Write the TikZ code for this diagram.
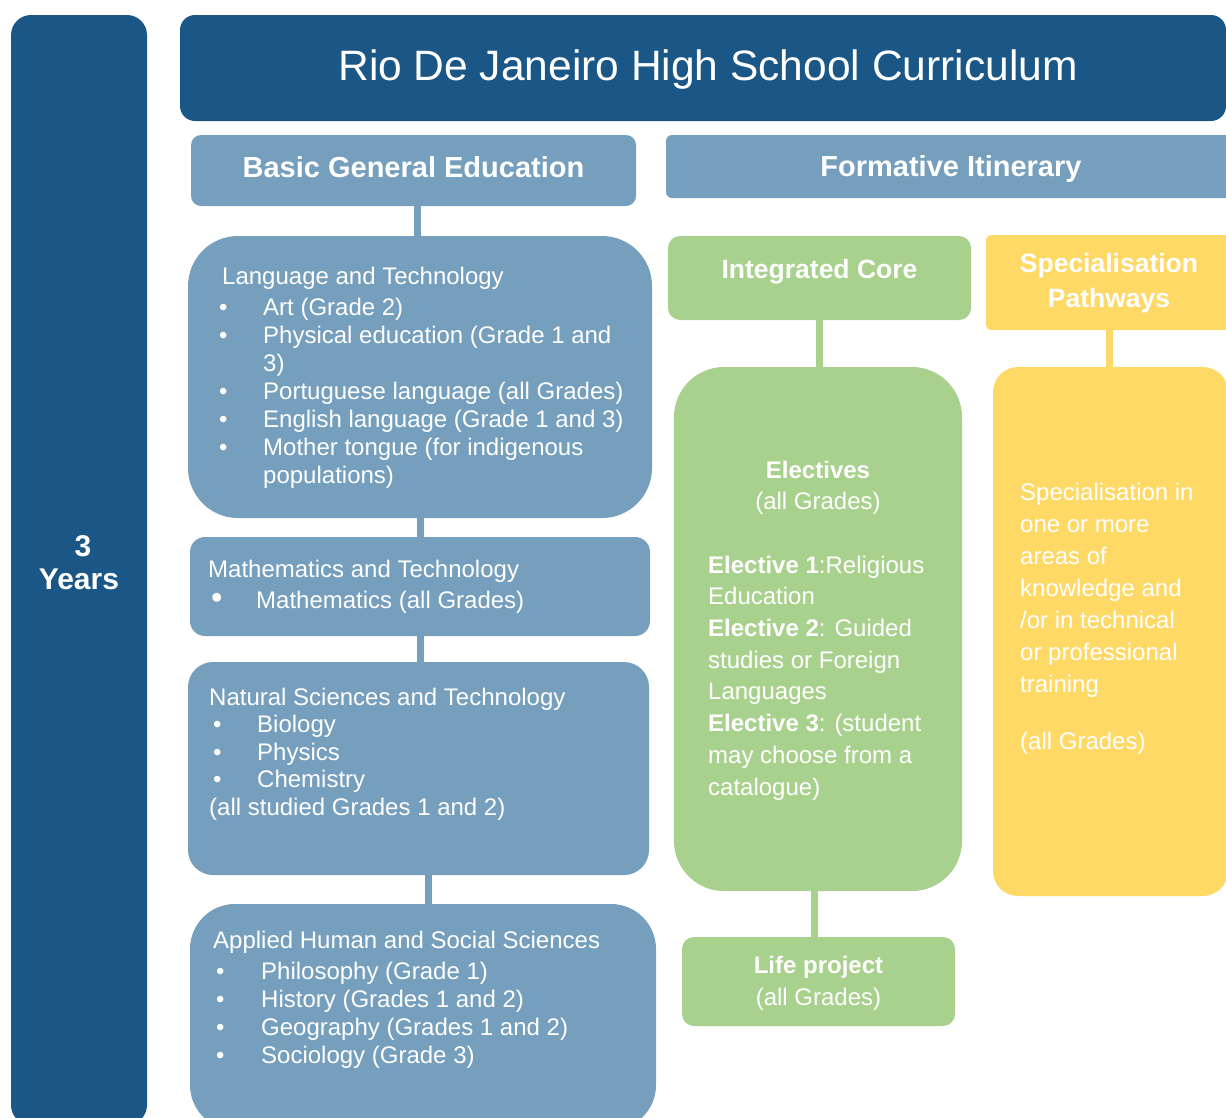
\documentclass[tikz,border=0pt]{standalone}
\usepackage{fontspec}
\setmainfont{Liberation Sans}
\usetikzlibrary{positioning}
\definecolor{darkblue}{HTML}{1A5786}
\definecolor{midblue}{HTML}{759FBC}
\definecolor{leafgreen}{HTML}{A9D18E}
\definecolor{sunyellow}{HTML}{FFD966}
\newcommand{\bul}[2][44pt]{\makebox[#1][l]{\textbullet}#2}

\begin{document}
\begin{tikzpicture}[x=1pt, y=-1pt, every node/.style={text=white, inner sep=0pt}]
      \tikzstyle{panel}=[rectangle, draw=none]
      \tikzstyle{head}=[font=\fontsize{29}{35}\selectfont\bfseries, anchor=base, align=center]
      \tikzstyle{body}=[font=\fontsize{24}{28}\selectfont, anchor=base west, align=left]
      \tikzstyle{bodyr}=[font=\fontsize{24}{31.7}\selectfont, anchor=base west, align=left]
      \tikzstyle{link}=[line width=7pt]
      \useasboundingbox (0,0) rectangle (1226,1117);
      \node[panel, fill=darkblue, minimum width=136pt, minimum height=1110pt, rounded corners=20pt] (years) at (79,570) {};
      \node[panel, fill=darkblue, minimum width=1046pt, minimum height=106pt, rounded corners=15pt] (title) at (703,68) {};
      \node[panel, fill=midblue, minimum width=445pt, minimum height=71pt, rounded corners=10pt] (bge) at (413.5,170.5) {};
      \node[panel, fill=midblue, minimum width=566pt, minimum height=63pt, rounded corners=6pt] (form) at (949,166.5) {};
      \node[panel, fill=midblue, minimum width=464pt, minimum height=282pt, rounded corners=50pt] (lang) at (420,377) {};
      \node[panel, fill=midblue, minimum width=460pt, minimum height=99pt, rounded corners=15pt] (maths) at (420,586.5) {};
      \node[panel, fill=midblue, minimum width=461pt, minimum height=213pt, rounded corners=25pt] (nat) at (418.5,768.5) {};
      \node[panel, fill=midblue, minimum width=466pt, minimum height=226pt, rounded corners=45pt] (app) at (423,1017) {};
      \node[panel, fill=leafgreen, minimum width=303pt, minimum height=84pt, rounded corners=12pt] (core) at (819.5,278) {};
      \node[panel, fill=leafgreen, minimum width=288pt, minimum height=524pt, rounded corners=50pt] (elec) at (818,629) {};
      \node[panel, fill=leafgreen, minimum width=273pt, minimum height=89pt, rounded corners=12pt] (life) at (818.5,981.5) {};
      \node[panel, fill=sunyellow, minimum width=246pt, minimum height=95pt, rounded corners=5pt] (spec) at (1109,282.5) {};
      \node[panel, fill=sunyellow, minimum width=235pt, minimum height=529pt, rounded corners=25pt] (spbox) at (1110.5,631.5) {};

      \draw[link, midblue] ([xshift=3.5pt]bge.south) -- ([xshift=3.5pt]bge.south |- lang.north);
      \draw[link, midblue] (lang.south) -- (lang.south |- maths.north);
      \draw[link, midblue] (maths.south) -- (maths.south |- nat.north);
      \draw[link, midblue] ([xshift=5pt]app.north) -- ([xshift=5pt]app.north |- nat.south);
      \draw[link, leafgreen] (core.south) -- (core.south |- elec.north);
      \draw[link, leafgreen] ([xshift=-4pt]life.north) -- ([xshift=-4pt]life.north |- elec.south);
      \draw[link, sunyellow] (spec.south) -- (spec.south |- spbox.north);

      \node[font=\fontsize{42.5}{50}\selectfont, anchor=base] (titletext) at (708,80) {Rio De Janeiro High School Curriculum};
      \node[head, font=\fontsize{30}{33}\selectfont\bfseries] (yearstext) at (79,589) {\hspace*{8pt}3\\Years};
      \node[head] (bgetext) at (413.5,177) {Basic General Education};
      \node[head] (formtext) at (951,176) {Formative Itinerary};
      \node[head, font=\fontsize{26.5}{35}\selectfont\bfseries] (coretext) at (819.5,278) {Integrated Core};
      \node[head, font=\fontsize{26.5}{35}\selectfont\bfseries] (spectext) at (1109,307) {Specialisation\\Pathways};
      \node[body] (langtext) at (219,483) {\hspace*{3pt}Language and Technology\\[3pt]
        \bul{Art (Grade 2)}\\
        \bul{Physical education (Grade 1 and}\\
        \hspace*{44pt}3)\\
        \bul{Portuguese language (all Grades)}\\
        \bul{English language (Grade 1 and 3)}\\
        \bul{Mother tongue (for indigenous}\\
        \hspace*{44pt}populations)};
      \node[body] (mathstext) at (208,608) {Mathematics and Technology\\[3pt]
        \hspace*{3pt}\makebox[45pt][l]{\scalebox{1.35}{\textbullet}}Mathematics (all Grades)};
      \node[body, font=\fontsize{24}{27.5}\selectfont] (nattext) at (209,815) {Natural Sciences and Technology\\
        \hspace*{4pt}\bul{Biology}\\
        \hspace*{4pt}\bul{Physics}\\
        \hspace*{4pt}\bul{Chemistry}\\
        (all studied Grades 1 and 2)};
      \node[body, font=\fontsize{24}{27.7}\selectfont] (apptext) at (213,1063) {Applied Human and Social Sciences\\[4pt]
        \hspace*{3pt}\bul[45pt]{Philosophy (Grade 1)}\\
        \hspace*{3pt}\bul[45pt]{History (Grades 1 and 2)}\\
        \hspace*{3pt}\bul[45pt]{Geography (Grades 1 and 2)}\\
        \hspace*{3pt}\bul[45pt]{Sociology (Grade 3)}};
      \node[head, font=\fontsize{24}{31}\selectfont] (electitle) at (818,509) {\textbf{Electives}\\(all Grades)};
      \node[bodyr] (electext) at (708,795) {\textbf{Elective 1}:Religious\\
        Education\\
        \textbf{Elective 2}: Guided\\
        studies or Foreign\\
        Languages\\
        \textbf{Elective 3}: (student\\
        may choose from a\\
        catalogue)};
      \node[head, font=\fontsize{24}{32}\selectfont] (lifetext) at (818.5,1005) {\textbf{Life project}\\(all Grades)};
      \node[bodyr, font=\fontsize{24}{32}\selectfont] (sptext) at (1020,749) {Specialisation in\\
        one or more\\
        areas of\\
        knowledge and\\
        /or in technical\\
        or professional\\
        training\\[25pt]
        (all Grades)};
    \end{tikzpicture}
\end{document}
